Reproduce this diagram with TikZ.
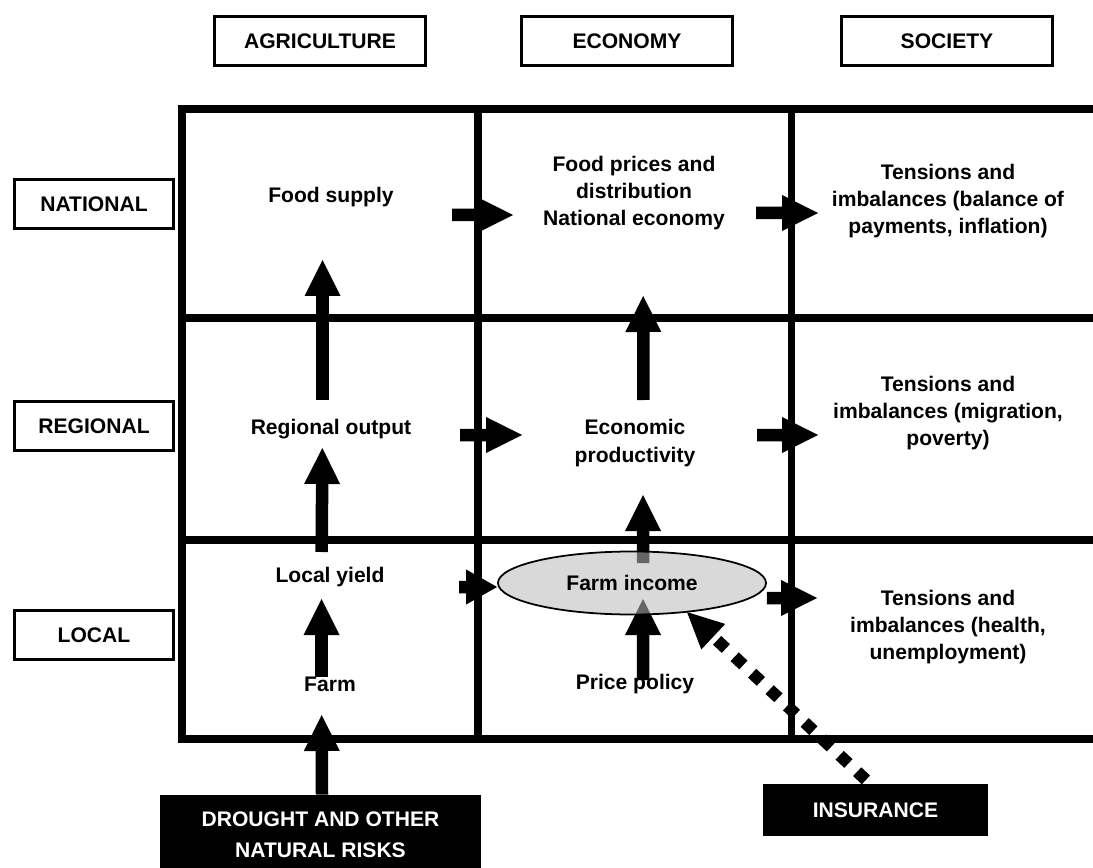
\documentclass[tikz,border=0pt]{standalone}
\usepackage{fontspec}
\setmainfont{Liberation Sans}
\usetikzlibrary{arrows.meta,shapes.geometric,backgrounds}

\begin{document}
\begin{tikzpicture}[>=stealth,
		colhead/.style={draw,line width=1.7pt,minimum width=4.22cm,minimum height=0.98cm,inner sep=0pt,font=\bfseries\fontsize{12}{14}\selectfont},
		rowhead/.style={colhead,minimum width=3.18cm},
		celltext/.style={align=center,inner sep=0pt,font=\bfseries\fontsize{12}{15.5}\selectfont},
		blackbox/.style={fill=black,text=white,align=center,inner sep=0pt,font=\bfseries\fontsize{12}{17.5}\selectfont},
		gridline/.style={line width=4pt},
		blk/.style={line width=2.5mm,-{Triangle[length=7.2mm,width=7.2mm,line width=0pt]}},
		dotarr/.style={line width=2.4mm,dash pattern=on 2.4mm off 2.4mm,-{Triangle[length=7.2mm,width=7mm,line width=0pt]}}]
			\useasboundingbox (0,0) rectangle (21.86,17.34);
			\draw[gridline] (22,15.16) -- (3.64,15.16) -- (3.64,2.56) -- (22,2.56);
			\draw[gridline] (3.64,10.98) -- (22,10.98);
			\draw[gridline] (3.64,6.54) -- (22,6.54);
			\draw[gridline] (9.56,15.16) -- (9.56,2.56);
			\draw[gridline] (15.82,15.16) -- (15.82,2.56);
			\node[colhead] (agri) at (6.40,16.52) {AGRICULTURE};
			\node[colhead] (econ) at (12.54,16.52) {ECONOMY};
			\node[colhead] (soc) at (18.94,16.52) {SOCIETY};
			\node[rowhead] (nat) at (1.88,13.26) {NATIONAL};
			\node[rowhead] (reg) at (1.88,8.82) {REGIONAL};
			\node[rowhead] (loc) at (1.88,4.64) {LOCAL};
			\node[celltext] (food) at (6.62,13.40) {Food supply};
			\node[celltext] (fprices) at (12.68,13.48) {Food prices and\\distribution\\National economy};
			\node[celltext] (tnat) at (18.96,13.32) {Tensions and\\imbalances (balance of\\payments, inflation)};
			\node[celltext] (regout) at (6.62,8.76) {Regional output};
			\node[celltext] (ecoprod) at (12.70,8.48) {Economic\\productivity};
			\node[celltext] (treg) at (18.96,9.08) {Tensions and\\imbalances (migration,\\poverty)};
			\node[celltext] (locyield) at (6.60,5.80) {Local yield};
			\node[celltext] (farm) at (6.60,3.66) {Farm};
			\node[celltext] (price) at (12.70,3.66) {Price policy};
			\node[celltext] (tloc) at (18.96,4.80) {Tensions and\\imbalances (health,\\unemployment)};
			\node[celltext,ellipse,draw,line width=1pt,fill=black!27,fill opacity=0.55,text opacity=1,minimum width=5.36cm,minimum height=1.26cm] (income) at (12.64,5.68) {Farm income};
			\node[blackbox,minimum width=6.42cm,minimum height=1.58cm] (drought) at (6.41,0.65) {DROUGHT AND OTHER\\NATURAL RISKS};
			\node[blackbox,minimum width=4.5cm,minimum height=1.04cm] (insur) at (17.51,1.14) {INSURANCE};
			\draw[blk,shorten <=2.42cm,shorten >=2.42cm] ([yshift=-3.6mm]food.center) -- ([yshift=-4.4mm]fprices.center);
			\draw[blk,shorten <=2.44cm,shorten >=2.6cm] ([yshift=-4mm]fprices.center) -- ([yshift=-2.4mm]tnat.center);
			\draw[blk,shorten <=0.58cm,shorten >=1.26cm] ([xshift=-1.7mm]regout.center) -- ([xshift=-1.7mm]food.center);
			\draw[blk,shorten <=2.58cm,shorten >=2.26cm] ([yshift=-1.2mm]regout.center) -- ([yshift=1.6mm]ecoprod.center);
			\draw[blk,shorten <=2.44cm,shorten >=2.6cm] ([yshift=1.6mm]ecoprod.center) -- ([yshift=-4.4mm]treg.center);
			\draw[blk,shorten <=0.86cm,shorten >=2.06cm] ([xshift=1.7mm]ecoprod.center) -- ([xshift=1.8mm]fprices.center);
			\draw[blk,shorten <=0.5cm,shorten >=0.38cm] ([xshift=-1.7mm]locyield.center) -- ([xshift=-1.7mm]regout.center);
			\draw[blk,-{Triangle[length=6.2mm,width=7mm,line width=0pt]},shorten <=2.58cm] ([yshift=-2mm]locyield.center) -- ([yshift=-0.8mm]income.west);
			\draw[blk,shorten <=0.14cm,shorten >=0.44cm] ([xshift=-1.7mm]farm.center) -- ([xshift=-1.7mm]locyield.center);
			\draw[blk,shorten >=0.62cm] ([xshift=0.3mm]drought.north) -- ([xshift=-1.7mm]farm.center);
			\draw[blk,shorten >=2.62cm] ([yshift=-3mm]income.east) -- ([yshift=5.8mm]tloc.center);
			\draw[dotarr,shorten <=0.88cm,shorten >=0.85cm] ([xshift=4.5mm]insur.center) -- ([xshift=4.8mm]income.center);
			\begin{scope}[on background layer]
				\draw[blk,shorten <=0.4cm,shorten >=1.04cm] ([xshift=2.2mm]income.center) -- ([xshift=1.6mm]ecoprod.center);
				\draw[blk,shorten <=0.08cm,shorten >=0.32cm] ([xshift=1.6mm]price.center) -- ([xshift=2.2mm]income.center);
			\end{scope}
		\end{tikzpicture}
\end{document}
